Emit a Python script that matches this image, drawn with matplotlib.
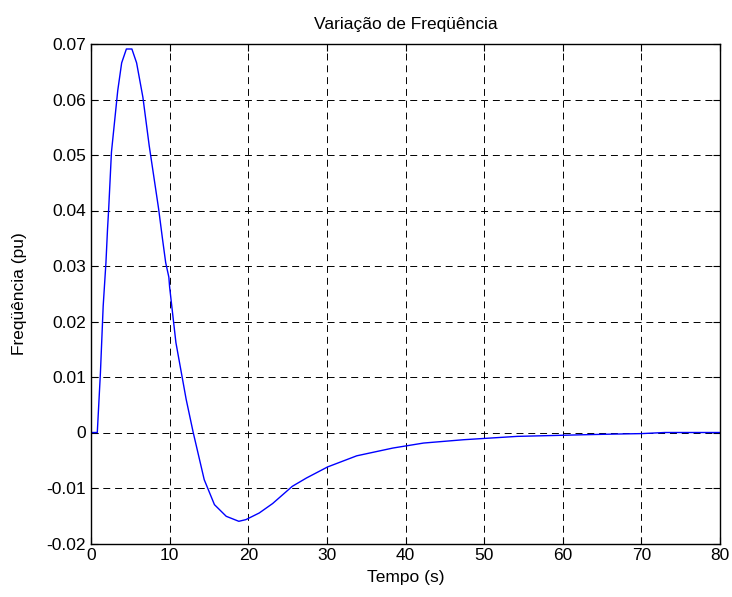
import matplotlib

matplotlib.use("Agg")

import matplotlib.pyplot as plt

# frequency deviation response
tempo = [0.0, 0.8, 1.2, 1.55, 1.9, 2.1, 2.25, 2.6, 3.4, 3.9, 4.5, 5.2, 5.8,
         6.6, 7.4, 8.6, 9.1, 9.5, 9.9, 10.0, 10.8, 12.1, 13.0, 14.4, 15.7,
         17.2, 18.8, 19.7, 21.4, 23.1, 25.6, 27.4, 30.1, 33.8, 38.4, 42.3,
         47.4, 54.2, 62.8, 66.0, 70.0, 73.0, 80.0]
freq = [0.0, 0.0, 0.0108, 0.0228, 0.0306, 0.0366, 0.0403, 0.0505, 0.0616,
        0.0666, 0.0691, 0.0691, 0.0666, 0.0604, 0.0517, 0.0403, 0.0348,
        0.0306, 0.0280, 0.0262, 0.0162, 0.0060, 0.0, -0.0085, -0.0130,
        -0.0151, -0.0160, -0.0157, -0.0145, -0.0128, -0.0097, -0.0082,
        -0.0062, -0.0042, -0.0028, -0.0019, -0.0013, -0.0007, -0.0004,
        -0.0003, -0.0002, 0.0, 0.0]

x_ticks = [0, 10, 20, 30, 40, 50, 60, 70, 80]
y_ticks = [-0.02, -0.01, 0, 0.01, 0.02, 0.03, 0.04, 0.05, 0.06, 0.07]
y_labels = ["-0.02", "-0.01", "0", "0.01", "0.02", "0.03", "0.04", "0.05",
            "0.06", "0.07"]

plt.rcParams["font.family"] = ["Liberation Sans", "DejaVu Sans"]
plt.rcParams["lines.scale_dashes"] = False

fig = plt.figure(figsize=(7.32, 5.97), dpi=100)
ax = fig.add_axes([91 / 732, 1 - 543.5 / 597, 629 / 732, 499.5 / 597])

ax.plot(tempo, freq, color="#0000ff", linewidth=1.0)

ax.set_xlim(0, 80)
ax.set_ylim(-0.02, 0.07)
ax.set_xticks(x_ticks)
ax.set_yticks(y_ticks, y_labels)
ax.tick_params(direction="in", top=True, right=True, labelsize=12.5,
               length=5, width=0.8)
ax.grid(True, color="black", linestyle=(0, (5, 3.5)), linewidth=0.7)
for spine in ax.spines.values():
    spine.set_linewidth(1.0)

ax.set_xlabel("Tempo (s)", fontsize=12.5, labelpad=5)
ax.set_ylabel("Freqüência (pu)", fontsize=12.5, labelpad=14)
ax.set_title("Variação de Freqüência", fontsize=12.5, pad=11)

fig.savefig("out.png", dpi=100)
plt.close(fig)
